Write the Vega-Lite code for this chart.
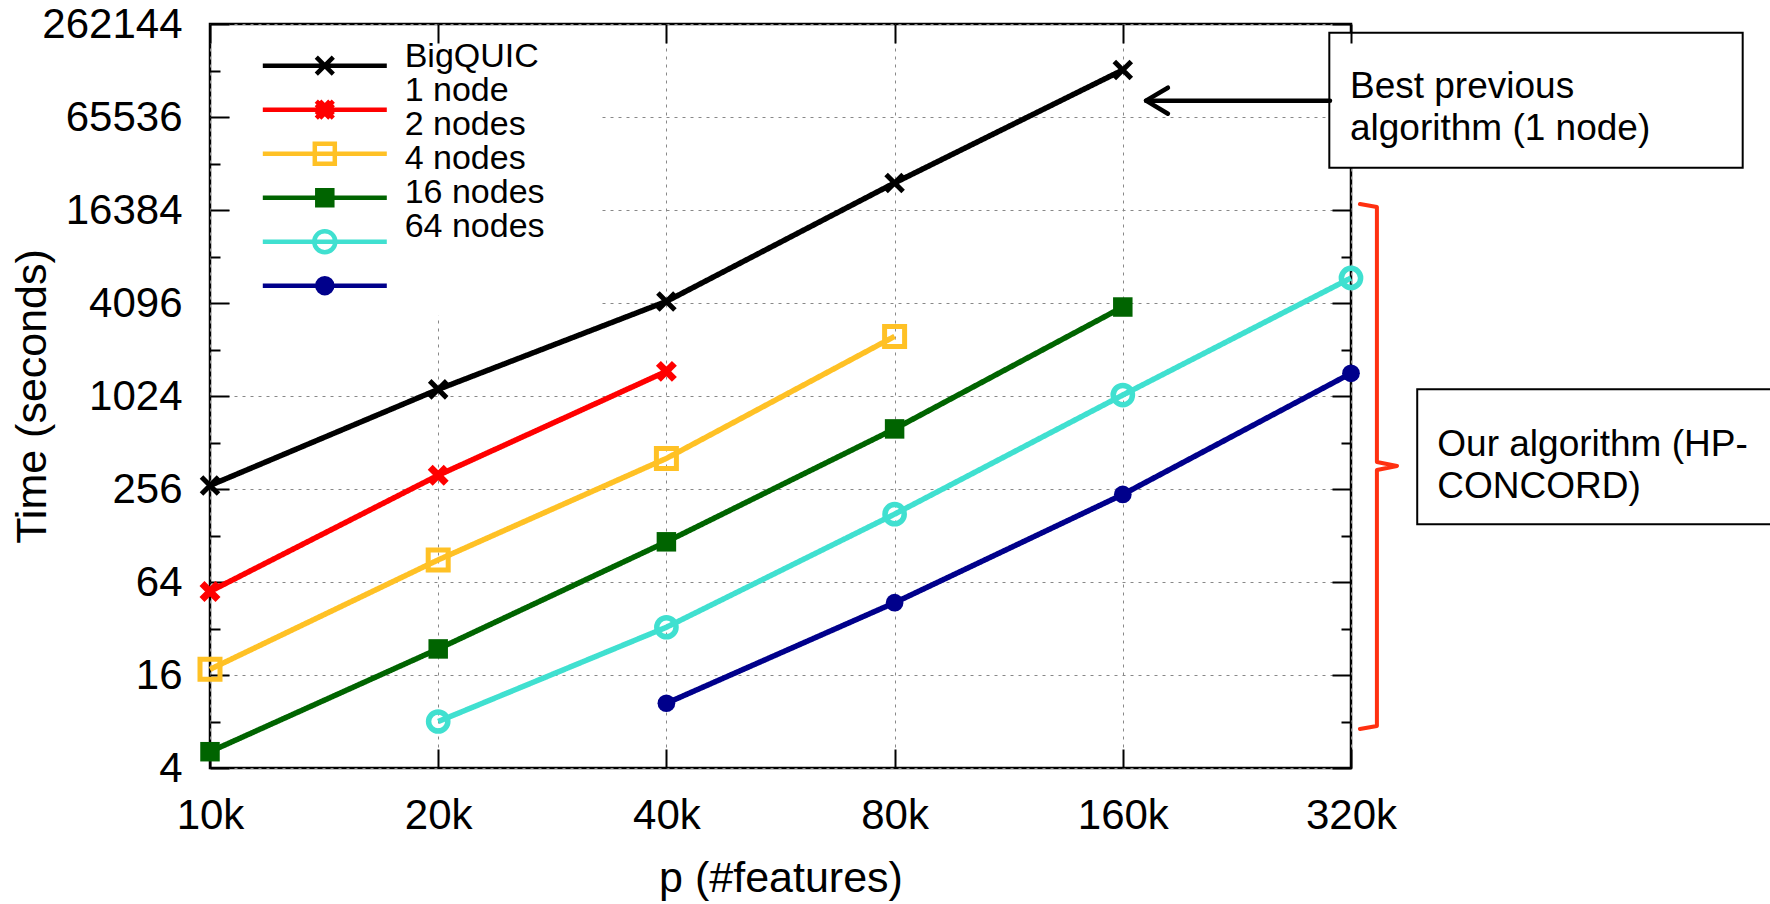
{
  "$schema": "https://vega.github.io/schema/vega-lite/v6.json",
  "width": 1141,
  "height": 744,
  "autosize": {"type": "none"},
  "padding": {"left": 210, "top": 24, "right": 419, "bottom": 136},
  "background": "white",
  "config": {
    "view": {"stroke": "black", "strokeWidth": 2.5},
    "font": "Liberation Sans"
  },
  "datasets": {
    "runs": [
      {"series": "BigQUIC", "p": 10000, "t": 270},
      {"series": "BigQUIC", "p": 20000, "t": 1130},
      {"series": "BigQUIC", "p": 40000, "t": 4194},
      {"series": "BigQUIC", "p": 80000, "t": 24540},
      {"series": "BigQUIC", "p": 160000, "t": 132100},
      {"series": "1 node", "p": 10000, "t": 55.6},
      {"series": "1 node", "p": 20000, "t": 314},
      {"series": "1 node", "p": 40000, "t": 1478},
      {"series": "2 nodes", "p": 10000, "t": 17.4},
      {"series": "2 nodes", "p": 20000, "t": 89},
      {"series": "2 nodes", "p": 40000, "t": 404},
      {"series": "2 nodes", "p": 80000, "t": 2490},
      {"series": "4 nodes", "p": 10000, "t": 5.1},
      {"series": "4 nodes", "p": 20000, "t": 23.6},
      {"series": "4 nodes", "p": 40000, "t": 116.5},
      {"series": "4 nodes", "p": 80000, "t": 627},
      {"series": "4 nodes", "p": 160000, "t": 3858},
      {"series": "16 nodes", "p": 20000, "t": 8},
      {"series": "16 nodes", "p": 40000, "t": 32.6},
      {"series": "16 nodes", "p": 80000, "t": 176},
      {"series": "16 nodes", "p": 160000, "t": 1039},
      {"series": "16 nodes", "p": 320000, "t": 5947},
      {"series": "64 nodes", "p": 40000, "t": 10.5},
      {"series": "64 nodes", "p": 80000, "t": 47},
      {"series": "64 nodes", "p": 160000, "t": 236},
      {"series": "64 nodes", "p": 320000, "t": 1436}
    ],
    "boxes": [
      {"x1": 299600, "x2": 1051600, "y1": 230300, "y2": 30785},
      {"x1": 391300, "x2": 1252000, "y1": 1131.6, "y2": 151.3}
    ],
    "notes": [
      {"x": 319000, "y": 102050, "text": "Best previous\nalgorithm (1 node)"},
      {"x": 415900, "y": 496.3, "text": "Our algorithm (HP-\nCONCORD)"}
    ],
    "arrow": [
      {"part": "shaft", "i": 0, "x": 300200, "y": 83590},
      {"part": "shaft", "i": 1, "x": 171700, "y": 83590},
      {"part": "head", "i": 0, "x": 183500, "y": 101420},
      {"part": "head", "i": 1, "x": 171700, "y": 83590},
      {"part": "head", "i": 2, "x": 183500, "y": 68840}
    ],
    "bracket": [
      {"i": 0, "x": 328800, "y": 17917},
      {"i": 1, "x": 346200, "y": 17139},
      {"i": 2, "x": 346200, "y": 383},
      {"i": 3, "x": 368000, "y": 360.8},
      {"i": 4, "x": 346200, "y": 339.9},
      {"i": 5, "x": 346200, "y": 7.48},
      {"i": 6, "x": 328800, "y": 7.156}
    ]
  },
  "layer": [
    {
      "data": {"name": "runs"},
      "mark": {"type": "line", "strokeWidth": 5.5},
      "encoding": {
        "x": {
          "field": "p", "type": "quantitative",
          "scale": {"type": "log", "base": 2, "domain": [10000, 320000], "nice": false},
          "axis": {
            "orient": "bottom",
            "values": [10000, 20000, 40000, 80000, 160000, 320000],
            "labelExpr": "datum.value/1000 + 'k'",
            "labelFontSize": 42, "labelColor": "black", "labelFont": "Liberation Sans",
            "labelPadding": 46, "labelFlush": false, "labelOverlap": false,
            "tickSize": -19, "tickWidth": 2, "tickColor": "black",
            "domain": false,
            "grid": true, "gridColor": "#888888", "gridDash": [3, 5], "gridWidth": 1,
            "title": "p (#features)", "titleFontSize": 43, "titleFontWeight": "normal",
            "titleColor": "black", "titleFont": "Liberation Sans",
            "titleX": 570.5, "titleY": 110, "titleBaseline": "middle", "titleAlign": "center",
            "zindex": 0
          }
        },
        "y": {
          "field": "t", "type": "quantitative",
          "scale": {"type": "log", "base": 2, "domain": [4, 262144], "nice": false},
          "axis": {
            "orient": "left",
            "values": [4, 8, 16, 32, 64, 128, 256, 512, 1024, 2048, 4096, 8192, 16384, 32768, 65536, 131072, 262144],
            "labelExpr": "round(log(datum.value)/LN2) % 2 == 0 ? format(datum.value, 'd') : ''",
            "labelFontSize": 42, "labelColor": "black", "labelFont": "Liberation Sans",
            "labelPadding": 47, "labelFlush": false, "labelOverlap": false,
            "tickSize": {"condition": {"test": "round(log(datum.value)/LN2) % 2 == 1", "value": -10}, "value": -19},
            "tickWidth": 2, "tickColor": "black",
            "domain": false,
            "grid": true,
            "gridOpacity": {"condition": {"test": "round(log(datum.value)/LN2) % 2 == 1", "value": 0}, "value": 1},
            "gridColor": "#888888", "gridDash": [3, 5], "gridWidth": 1,
            "title": "Time (seconds)", "titleFontSize": 43, "titleFontWeight": "normal",
            "titleColor": "black", "titleFont": "Liberation Sans",
            "titleX": -178, "titleY": 372, "titleAngle": -90, "titleBaseline": "middle", "titleAlign": "center",
            "zindex": 0
          }
        },
        "color": {
          "field": "series", "type": "nominal",
          "scale": {
            "domain": ["BigQUIC", "1 node", "2 nodes", "4 nodes", "16 nodes", "64 nodes"],
            "range": ["#000000", "#ff0000", "#ffc125", "#006400", "#40e0d0", "#00008b"]
          },
          "legend": null
        },
        "strokeDash": {
          "field": "series", "type": "nominal",
          "sort": ["BigQUIC", "1 node", "2 nodes", "4 nodes", "16 nodes", "64 nodes"],
          "scale": {
            "range": [[1, 0], [1, 0], [1, 0], [1, 0], [1, 0], [1, 0]]
          },
          "legend": {
            "orient": "top-left", "offset": 0, "padding": 16.15, "title": null,
            "symbolSize": 1, "symbolStrokeWidth": 0, "symbolOpacity": 0,
            "labelFontSize": 34, "labelFont": "Liberation Sans", "labelColor": "black",
            "labelOffset": 144.5, "rowPadding": -4.2, "clipHeight": 33.1, "labelLimit": 400, "zindex": 3
          }
        }
      }
    },
    {
      "data": {"name": "runs"},
      "mark": {"type": "point", "filled": false, "opacity": 1},
      "encoding": {
        "x": {
          "field": "p", "type": "quantitative",
          "scale": {"type": "log", "base": 2, "domain": [10000, 320000], "nice": false},
          "axis": {
            "orient": "top",
            "values": [10000, 20000, 40000, 80000, 160000, 320000],
            "labels": false, "title": null, "grid": false, "domain": false,
            "tickSize": -19, "tickWidth": 2, "tickColor": "black", "zindex": 2
          }
        },
        "y": {
          "field": "t", "type": "quantitative",
          "scale": {"type": "log", "base": 2, "domain": [4, 262144], "nice": false},
          "axis": {
            "orient": "right",
            "values": [4, 8, 16, 32, 64, 128, 256, 512, 1024, 2048, 4096, 8192, 16384, 32768, 65536, 131072, 262144],
            "labels": false, "title": null, "grid": false, "domain": false,
            "tickSize": {"condition": {"test": "round(log(datum.value)/LN2) % 2 == 1", "value": -10}, "value": -19},
            "tickWidth": 2, "tickColor": "black", "zindex": 0
          }
        },
        "color": {"field": "series", "type": "nominal", "legend": null},
        "shape": {
          "condition": [
            {"test": "datum.series === 'BigQUIC' || datum.series === '1 node'", "value": "M-1,-1L1,1M-1,1L1,-1"},
            {"test": "datum.series === '2 nodes' || datum.series === '4 nodes'", "value": "square"}
          ],
          "value": "circle"
        },
        "fill": {
          "condition": [
            {"test": "datum.series === '4 nodes'", "value": "#006400"},
            {"test": "datum.series === '64 nodes'", "value": "#00008b"}
          ],
          "value": "transparent"
        },
        "strokeWidth": {
          "condition": [
            {"test": "datum.series === 'BigQUIC'", "value": 5},
            {"test": "datum.series === '1 node'", "value": 7},
            {"test": "datum.series === '2 nodes'", "value": 5},
            {"test": "datum.series === '16 nodes'", "value": 5.5}
          ],
          "value": 0
        },
        "size": {
          "condition": [
            {"test": "datum.series === 'BigQUIC'", "value": 289},
            {"test": "datum.series === '1 node'", "value": 256},
            {"test": "datum.series === '2 nodes'", "value": 400},
            {"test": "datum.series === '4 nodes'", "value": 380},
            {"test": "datum.series === '16 nodes'", "value": 370}
          ],
          "value": 314
        }
      }
    },
    {
      "data": {"name": "runs"},
      "mark": {"type": "point", "filled": false, "opacity": 0},
      "encoding": {
        "x": {"field": "p", "type": "quantitative", "scale": {"type": "log", "base": 2, "domain": [10000, 320000], "nice": false}, "axis": null},
        "y": {"field": "t", "type": "quantitative", "scale": {"type": "log", "base": 2, "domain": [4, 262144], "nice": false}, "axis": null},
        "color": {"field": "series", "type": "nominal", "legend": null},
        "shape": {
          "field": "series", "type": "nominal",
          "scale": {
            "domain": ["BigQUIC", "1 node", "2 nodes", "4 nodes", "16 nodes", "64 nodes"],
            "range": [
              "M-6.2,0H6.2M-0.85,-0.85L0.85,0.85M-0.85,0.85L0.85,-0.85",
              "M-6.2,0H6.2M-0.85,-0.85L0.85,0.85M-0.85,0.85L0.85,-0.85M-0.85,-0.5L0.5,0.85M-0.5,-0.85L0.85,0.5M-0.85,0.5L0.5,-0.85M-0.5,0.85L0.85,-0.5",
              "M-6.2,0H6.2M-1,-1H1V1H-1Z",
              "M-6.2,0H6.2M-0.75,-0.75H0.75V0.75H-0.75ZM-0.33,-0.33H0.33V0.33H-0.33ZM-0.05,-0.05H0.05V0.05H-0.05Z",
              "M-6.2,0H6.2M-1.05,0A1.05,1.05,0,1,1,1.05,0A1.05,1.05,0,1,1,-1.05,0Z",
              "M-6.2,0H6.2M-0.75,0A0.75,0.75,0,1,1,0.75,0A0.75,0.75,0,1,1,-0.75,0ZM-0.33,0A0.33,0.33,0,1,1,0.33,0A0.33,0.33,0,1,1,-0.33,0ZM-0.05,0A0.05,0.05,0,1,1,0.05,0A0.05,0.05,0,1,1,-0.05,0Z"
            ]
          },
          "legend": {
            "orient": "none", "legendX": 22, "legendY": 11.7, "padding": 8, "title": null,
            "fillColor": "white", "symbolSize": 400, "symbolStrokeWidth": 4.5, "symbolOffset": 72.3,
            "symbolOpacity": 1,
            "symbolStrokeColor": {"expr": "scale('color', datum.value)"},
            "labelFontSize": 1, "labelOpacity": 0, "labelExpr": "''", "labelOffset": 255.6,
            "rowPadding": 0, "clipHeight": 44,
            "zindex": 1
          }
        }
      }
    },
    {
      "data": {"name": "boxes"},
      "mark": {"type": "rect", "fill": "white", "stroke": "black", "strokeWidth": 2},
      "encoding": {
        "x": {"field": "x1", "type": "quantitative", "scale": {"type": "log", "base": 2, "domain": [10000, 320000], "nice": false}, "axis": null},
        "x2": {"field": "x2"},
        "y": {"field": "y1", "type": "quantitative", "scale": {"type": "log", "base": 2, "domain": [4, 262144], "nice": false}, "axis": null},
        "y2": {"field": "y2"}
      }
    },
    {
      "data": {"name": "notes"},
      "mark": {"type": "text", "align": "left", "baseline": "middle", "fontSize": 37, "lineHeight": 42, "lineBreak": "\n", "font": "Liberation Sans", "color": "black"},
      "encoding": {
        "x": {"field": "x", "type": "quantitative", "scale": {"type": "log", "base": 2, "domain": [10000, 320000], "nice": false}, "axis": null},
        "y": {"field": "y", "type": "quantitative", "scale": {"type": "log", "base": 2, "domain": [4, 262144], "nice": false}, "axis": null},
        "text": {"field": "text"}
      }
    },
    {
      "data": {"name": "arrow"},
      "mark": {"type": "line", "color": "black", "strokeWidth": 4.5, "strokeCap": "round", "strokeJoin": "round"},
      "encoding": {
        "x": {"field": "x", "type": "quantitative", "scale": {"type": "log", "base": 2, "domain": [10000, 320000], "nice": false}, "axis": null},
        "y": {"field": "y", "type": "quantitative", "scale": {"type": "log", "base": 2, "domain": [4, 262144], "nice": false}, "axis": null},
        "detail": {"field": "part"},
        "order": {"field": "i"}
      }
    },
    {
      "data": {"name": "bracket"},
      "mark": {"type": "line", "color": "#ff3010", "strokeWidth": 4, "strokeCap": "round", "strokeJoin": "round"},
      "encoding": {
        "x": {"field": "x", "type": "quantitative", "scale": {"type": "log", "base": 2, "domain": [10000, 320000], "nice": false}, "axis": null},
        "y": {"field": "y", "type": "quantitative", "scale": {"type": "log", "base": 2, "domain": [4, 262144], "nice": false}, "axis": null},
        "order": {"field": "i"}
      }
    }
  ],
  "resolve": {
    "axis": {"x": "independent", "y": "independent"},
    "legend": {"shape": "independent", "strokeDash": "independent"}
  }
}
